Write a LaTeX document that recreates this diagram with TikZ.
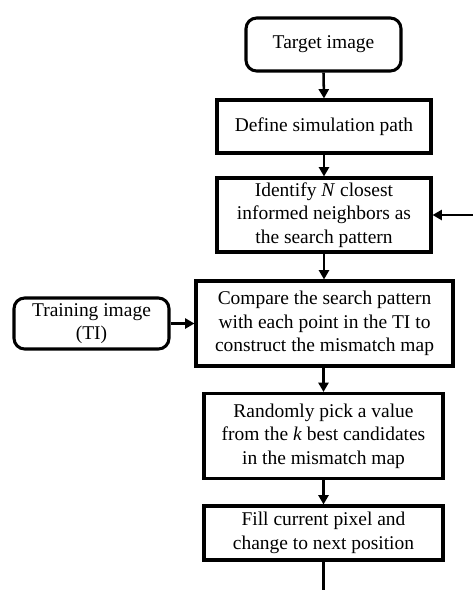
\documentclass[tikz,border=0pt]{standalone}
\usepackage{fontspec}
\setmainfont{Liberation Serif}
\usetikzlibrary{arrows.meta,calc}
\begin{document}
\begin{tikzpicture}[x=0.75pt,y=-0.75pt,
  box/.style={draw, line width=2.3pt, align=center, inner sep=0pt,
    font=\fontsize{14.6pt}{17.6pt}\selectfont},
  rbox/.style={box, rounded corners=8pt},
  arr/.style={line width=1.9pt, -{Triangle[length=7pt,width=7.5pt]}},
  plain/.style={line width=1.9pt}]
\useasboundingbox (0,0) rectangle (473,590);
\node[rbox, minimum width=155*0.75pt, minimum height=53*0.75pt] (target) at (323.5,44.5) {Target image};
\node[box, minimum width=214*0.75pt, minimum height=53*0.75pt] (define) at (324,126.5) {Define simulation path};
\node[box, minimum width=214*0.75pt, minimum height=74*0.75pt] (identify) at (324,215) {Identify \textit{N} closest\\informed neighbors as\\the search pattern};
\node[box, minimum width=257*0.75pt, minimum height=85*0.75pt] (compare) at (324.5,323.5) {Compare the search pattern\\with each point in the TI to\\construct the mismatch map};
\node[rbox, minimum width=155*0.75pt, minimum height=51*0.75pt] (training) at (91.5,323.5) {Training image\\(TI)};
\node[box, minimum width=239*0.75pt, minimum height=85*0.75pt] (random) at (323.5,436) {Randomly pick a value\\from the \textit{k} best candidates\\in the mismatch map};
\node[box, minimum width=239*0.75pt, minimum height=54*0.75pt] (fill) at (323.5,533) {Fill current pixel and\\change to next position};
\coordinate (fb) at (473,215);
\coordinate (bottom) at (323.5,590);
\draw[arr] (target.south) -- (define.north);
\draw[arr] (define.south) -- (identify.north);
\draw[arr] (identify.south) -- (identify.south |- compare.north);
\draw[arr] (compare.south -| random.north) -- (random.north);
\draw[arr] (random.south) -- (fill.north);
\draw[arr] (training.east) -- (compare.west);
\draw[arr] (fb) -- (identify.east);
\draw[plain] (fill.south) -- (bottom);
\end{tikzpicture}
\end{document}
